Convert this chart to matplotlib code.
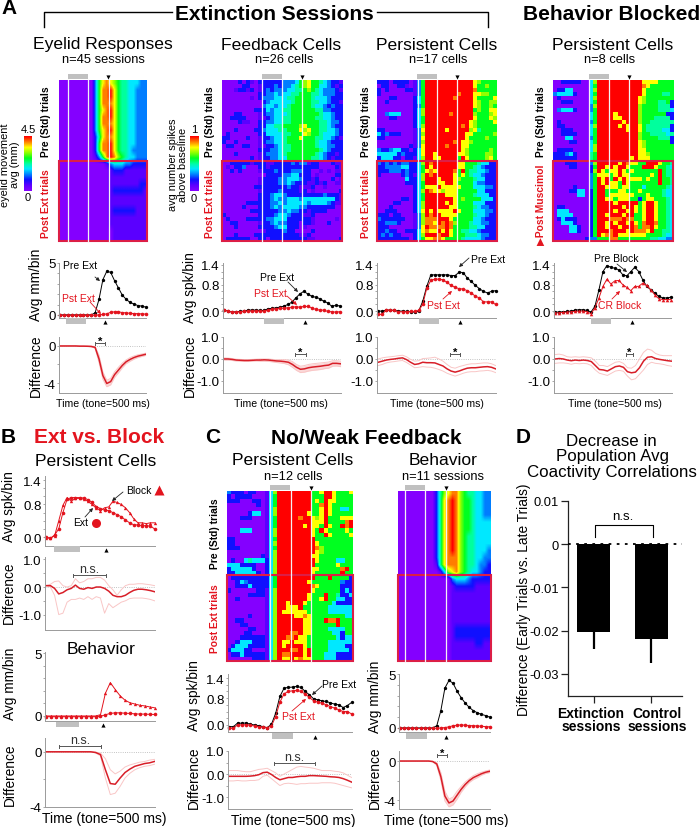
import numpy as np
import matplotlib
matplotlib.use("Agg")
import matplotlib.pyplot as plt
from matplotlib.colors import LinearSegmentedColormap
from matplotlib.patches import Rectangle

plt.rcParams['font.family'] = ['Liberation Sans', 'DejaVu Sans']

W, H = 700, 828
RED = '#e3141e'
BOX = '#dc1e46'
GREY = '#c0c0c0'

# heat maps, one hex digit per cell (0 = purple ... a = red)
hm_eyelid = [
 "00000000036898765544433", "0000000003699a865544333", "0000000003699a865544333",
 "00000000036999865544333", "0000000003689a865544333", "0000000003699a865544333",
 "00000000036999865544333", "0000000003689a865544333", "00000000025899865544333",
 "0000000002699a865544333", "0000000002699a865543333", "0000000001369a976544333",
 "00000000000013444332222", "00000000000001222111111", "00000000000001111111111",
 "00000000000001111111122", "00000000000001222222221", "00000000000001111111111",
 "00000000000001111111111", "00000000000001222222111", "00000000000001111111111",
 "00000000000001111111111", "00000000000000111111111", "00000000000000111111111"]
hm_feedback = [
 "000020210222222333467866543221", "000002200122232334567866443212", "000122120123233344556765433321",
 "000000000223343445566655433322", "000000010233344455666654443222", "000000000023444445666655443221",
 "000000000034434456666654432322", "000000002224344556666665533222", "000220000123344456666666544322",
 "002222000112344556666665544322", "000021100223344556666666554332", "000000000224455666678666554322",
 "000200002234445566687866554432", "020000000224444556668766544432", "220000200122344566686665544321",
 "200200000123344566666665443222", "022002200112234556666665443322", "000000000222334556666666543222",
 "000200000123334566666665432212", "000000020122334466666655432122",
 "002222212221122223233122000211", "010223000221222222222222000021", "002020000122232223332200101011",
 "000000000002222334422201000022", "000000000122223344432212000201", "000000000122223343222112120011",
 "000000002222222232211120010000", "000000000122223222212010000002", "000000000222344322222222232221",
 "000000000222343344434444444421", "000000222222334344444344443211", "000002000222343444433222222200",
 "000000022222223343322122220000", "200000000222234432221120000000", "020000222223344422222210000010",
 "002200000122343322202210002000", "000200000222234422201000000000", "000000000012222322000020000000",
 "000200002222222222211200000000", "022222200220222222222110000002"]
hm_persist = [
 "222022220136aaaaaaaaaaaa876666", "022002210136aaaaaaaaaaaa866766", "202000022136aaaaaaaaaaaa966666",
 "200000000136aaaaaaaa9aaa887766", "000220000246aaaaaaa9aaaa866668", "002000000246aaaaaaaaaaaa876677",
 "000000000236aaaaaaaaaaaa876676", "000000000247aaaaaaaaaaaa676688", "003444000247aaaaaa9aaaaa766678",
 "000220000246aaaaaaaaaaaa866687", "000000000246aaaaaaaaaaa8766668", "000000000247aaaaaaaaa9a8766666",
 "220000000138aaaaa8aaaaa7856666", "423222000137aaaaaaaaaa88666667", "220000000138aaaaaaaaaa86666766",
 "000000000137aaaaaaa9a887666666", "000000002138aaaaa9aaa886666666", "322344220248aaaaaaaaa876666676",
 "444442322248aa8aaaaa8876666776", "244422022147aa88aaaa6a86666786",
 "323232332247a9aaaaaa8866654422", "223333442246a8aaaaaa8866543222", "222333232246898aaaa96a65544322",
 "200000232147a9aaaaa86865443222", "000000042247aaa8aaa87666544222", "000000022246aaa88aa86666433222",
 "000000000246888a88888666444332", "000000000247a98878886666644222", "000000000246aaaaa8886666544422",
 "000000220246aaaaaaa86766664442", "000022000247aaaaa8a86666444222", "000200000247aaaaaa886666543322",
 "002220000248a8a8888a8666444332", "222022000137a9aa88886666544322", "322222200137999aaa866666443222",
 "223332000137998a9a976665443322", "222000000138a9999a966665544222", "223220022248988a8a866554432222",
 "232322000247aaa9aa866655543322", "222222220246889986666544443222"]
hm_blocked = [
 "00222220047aaaaaaaaaaa88886666", "00000000046aaaaaaaaaaa98666666", "02244000047aaaaaaaaaaa86666666",
 "34444200046aaaaaaaaaaa86666556", "02000000047aaaaaaaaaa876666666", "00222000046aaaaaaaaaa876665562",
 "00000000037aaaaaaaaaa766665552", "03444200036aaaaaaaaaa766665554", "00000000046aaaa8aaaaa766666622",
 "00000000046aaaa88aaaa766655552", "02000000036aaaaaa8aaa766555555", "02200000047aaaaa8a8aa865555552",
 "00222000046aaaaaaa8aa865555442", "00222200046aaaaaaaaaa766555545", "00044000036aaaaaaaaaa766665552",
 "00002200046aaaaaaaaaa876666662", "00000000047aaaaaaaaaa876666666", "02222000047aaaaaaaaaa886666666",
 "22234200056aaaaaaaaaa887666666", "22222200056aaaaaaaa8a888666666",
 "00022200037aaaaa8a98866aaa8665", "00002200026aa8a8aa8666aaa86654", "00000000027a8688a868666666a655",
 "0000000003688868a886666686a655", "00000000036a8a6a8a88886866a665", "00000000036a8a886a86666666a665",
 "00000200036aa88868866646666654", "00002244026aa66688666866666544", "00000044026aa68888886668666544",
 "00000000026aa88688866268866654", "00000000026aaaa8aaaaa68aa86654", "02200000026aaaaaa8aa868aa86654",
 "04440000026aaaa8aa8a868aa86654", "04444000026aa8aaa8aa668aa86654", "02422200026aaa999a99668aa86654",
 "00444200026aa8a8aa8a869aa96654", "00004420026aa8aa8aaa9699a86654", "00004420026aaa9aaa8a9998a66554",
 "00000000026a899a88888886666544", "00000000233666996666666655443"]
hm_noweak = [
 "322202200147aaaaaaaa668aa86668", "202222000146aaaaaaaa666aa86666", "222000220146aaaaaaaa686a886666",
 "000000020146aaaaaaaa669a866666", "000000000147aaaaaaaa668a866446", "000002440147aaaaaaa8668a866666",
 "000222000146aaaaa9aa878a666888", "000000000146aaaaaaaa888a66669a", "000000000146aaaaaa8a886a866a9a",
 "000444000147aaaaaaaa86a8666686", "000000000147aaaaaaaa866a866668", "220000000146aaaaaaaaa666666666",
 "220000000147aaaaaaaaa866666666", "222000000146aaaaaaaaa976666666", "000000000147aaaaaaaaa876666666",
 "000000002147aaaaaaaa8866666666", "020045444247aaaaaaaaa866664466", "444222200247aaaaaaaaa666668666",
 "244444200247aaaaaaaa88666669a6", "224444420247aaaaaaaa8666666a66",
 "022222222246aaaaaaaaa666a66662", "002432222246aaaaaaa86666666322", "002224222246aaaaaaaa9866666222",
 "200000022147aaaaaaaa8666666242", "000002222147aaaaaaa8666a665224", "002000000147aaaaaaa8668a664422",
 "000000000147aa8aaa866666642222", "000000000147aa888a666666444444", "000000000147a88888866666444444",
 "000002000147aaaa88986666666644", "002200000147aaaaaa88666a99a666", "000220000147aaaaaa88666666a666",
 "000002200147aaaaaa886666444466", "000022000147aaa99a886666644266", "000222222147aa99a8866666664244",
 "002444222147a88a88866666444444", "024442222147a8aaaa866666444422", "244422000147aaa99a8a6666444442",
 "022422222147a99aaa8a6664442222", "000000222147a88a89886664442222"]
hm_noweak_beh = [
 "00000000025789976554433", "0000000002589a976654433", "0000000002589a976654433",
 "0000000002589a976654433", "0000000002589a976654444", "0000000002589a976654444",
 "0000000002589a976554444", "0000000002589a976554444", "0000000002589a976554443",
 "00000000025899976554433", "00000000015899976554332", "00000000001478976544322",
 "00000000000003444322222", "00000000000001222221111", "00000000000001111111111",
 "00000000000001111111111", "00000000000001111111111", "00000000000001111111111",
 "00000000000001111111111", "00000000000001222222222", "00000000000001222222222",
 "00000000000001111112211", "00000000000001111111111", "00000000000001111111111"]

# line panels: Avg per bin, pre and post
a1_pre = [0, 0, 0, 0, 0, 0, 0, 0, 0, .2, 1.5, 3.4, 4.2, 4.1, 3.3, 2.6, 1.9, 1.5, 1.2, 1.05, .9, .85, .75]
a1_pst = [-.05, -.05, -.05, -.05, -.05, -.05, -.05, -.05, -.05, -.03, 0, .05, .1, .25, .3, .3, .22, .2, .15, .13, .12, .1, .08]
a1_diff = [0, 0, 0, 0, 0, -.02, -.02, -.03, -.05, -.15, -1.4, -3.2, -4.05, -3.85, -3.1, -2.6, -2.1, -1.7, -1.45, -1.25, -1.1, -1.0, -.9]
a1_up = [0, 0, 0, 0, 0, -.01, -.01, -.01, -.02, -.05, -1.0, -2.8, -3.7, -3.5, -2.8, -2.3, -1.85, -1.5, -1.25, -1.08, -.95, -.87, -.78]
a1_lo = [0, 0, 0, 0, 0, -.03, -.03, -.05, -.08, -.25, -1.8, -3.6, -4.4, -4.2, -3.4, -2.9, -2.35, -1.9, -1.65, -1.42, -1.25, -1.13, -1.02]

a2_pre = [.03, 0, -.03, -.02, -.01, 0, .03, .03, .03, .02, .02, .07, .08, .1, .12, .15, .2, .27, .4, .52, .6, .52, .45, .42, .38, .3, .25, .15, .17, .16]
a2_pst = [.03, 0, -.03, -.03, -.02, -.01, 0, 0, 0, 0, 0, .03, .05, .07, .08, .09, .1, .12, .13, .12, .14, .14, .1, .05, .03, .03, -.01, -.02, -.03, -.02]
a2_diff = [0, 0, -.02, -.05, -.06, -.07, -.07, -.06, -.05, -.05, -.04, -.05, -.07, -.09, -.1, -.12, -.15, -.25, -.38, -.47, -.45, -.4, -.37, -.35, -.33, -.3, -.28, -.2, -.2, -.22]
a2_up = [.05, .04, .02, -.01, -.02, -.03, -.03, -.02, -.01, 0, 0, 0, -.02, -.03, -.03, -.03, -.05, -.12, -.25, -.33, -.3, -.25, -.22, -.2, -.18, -.16, -.14, -.08, -.08, -.1]
a2_lo = [-.05, -.05, -.07, -.09, -.1, -.11, -.11, -.1, -.09, -.1, -.1, -.11, -.13, -.16, -.18, -.21, -.26, -.38, -.52, -.62, -.6, -.55, -.52, -.5, -.48, -.44, -.42, -.33, -.32, -.35]

a3_pre = [0, 0, .03, .03, .02, 0, 0, -.01, -.02, -.03, 0, .3, .75, 1.1, 1.1, 1.1, 1.1, 1.1, 1.08, 1.08, 1.18, 1.17, 1.0, .9, .78, .68, .6, .55, .6, .62]
a3_pst = [-.1, -.1, .04, .02, .02, -.02, -.02, -.02, -.01, -.01, .02, .2, .7, .93, .97, .97, .95, .87, .78, .72, .68, .67, .62, .55, .45, .4, .28, .28, .28, .2]
a3_diff = [-.15, -.1, -.05, -.02, 0, .03, .05, -.03, -.15, -.25, -.22, -.15, -.17, -.17, -.18, -.25, -.32, -.45, -.55, -.6, -.55, -.48, -.42, -.4, -.4, -.38, -.36, -.35, -.38, -.45]
a3_up = [0, .05, .08, .1, .12, .15, .17, .1, -.02, -.1, -.08, .02, .03, .05, .08, 0, -.1, -.25, -.38, -.42, -.35, -.3, -.25, -.22, -.22, -.2, -.18, -.18, -.22, -.3]
a3_lo = [-.3, -.25, -.18, -.14, -.12, -.09, -.07, -.16, -.28, -.4, -.38, -.35, -.37, -.38, -.42, -.48, -.55, -.65, -.72, -.78, -.72, -.65, -.6, -.58, -.58, -.55, -.54, -.52, -.55, -.62]

a4_pre = [-.03, -.03, -.02, -.01, 0, .03, .04, .04, .02, -.03, .15, .65, 1.2, 1.38, 1.33, 1.3, 1.25, 1.1, 1.07, 1.2, 1.33, 1.2, .95, .75, .65, .55, .45, .4, .4, .42]
a4_pst = [-.06, -.05, -.04, -.03, -.02, -.01, 0, 0, -.02, -.08, .1, .4, .75, .97, .82, .92, .93, .8, .72, .62, .75, .75, .85, .78, .65, .5, .38, .35, .35, .35]
a4_diff = [0, .02, 0, -.05, -.08, -.05, -.07, -.05, -.07, -.12, -.3, -.48, -.5, -.55, -.45, -.35, -.32, -.38, -.58, -.63, -.6, -.4, -.1, .08, .1, .02, -.02, -.05, -.08, -.1]
a4_up = [.2, .22, .18, .1, .08, .1, .08, .1, .08, .05, -.1, -.3, -.3, -.35, -.25, -.15, -.12, -.2, -.4, -.42, -.3, 0, .3, .45, .4, .25, .18, .15, .15, .15]
a4_lo = [-.2, -.18, -.18, -.2, -.24, -.2, -.22, -.2, -.22, -.3, -.5, -.65, -.7, -.75, -.65, -.55, -.52, -.56, -.78, -.95, -.9, -.7, -.5, -.25, -.15, -.2, -.22, -.25, -.3, -.33]

b1_block = [-.02, -.03, .03, .4, .78, .97, .88, .95, .95, .93, .88, .8, .72, .65, .72, .74, .88, .85, .8, .72, .6, .45, .35, .35, .33, .35, .35]
b1_ext = [0, -.03, .05, .2, .6, .93, .97, .97, .97, .96, .92, .85, .75, .7, .66, .65, .6, .55, .5, .42, .35, .3, .3, .28, .28, .27, .2]
b1_diff = [.05, .05, -.05, -.25, -.2, -.1, -.05, .07, -.05, -.08, -.02, -.05, 0, 0, -.05, -.15, -.3, -.35, -.35, -.3, -.2, -.12, -.08, -.08, -.1, -.13, -.17]
b1_up = [.05, .1, .2, .22, .05, 0, .05, .3, .15, .2, .3, .3, .35, .35, .25, .05, -.1, -.3, -.1, .05, .1, .1, .12, .12, .1, .08, .05]
b1_lo = [.05, 0, -.3, -1.0, -.95, -.55, -.45, -.45, -.4, -.45, -.35, -.45, -.35, -.4, -.95, -.6, -.75, -.65, -.55, -.5, -.42, -.4, -.4, -.4, -.42, -.45, -.5]

b2_block = [0, 0, 0, 0, 0, 0, 0, 0, 0, 0, 0, .1, 1.8, 2.65, 2.1, 1.6, 1.25, 1.05, .95, .85, .8, .72, .65]
b2_ext = [-.05, -.05, -.05, -.05, -.05, -.05, -.05, -.05, -.05, -.05, -.05, -.03, .1, .2, .25, .25, .22, .2, .17, .15, .15, .13, .12]
b2_diff = [0, 0, 0, 0, 0, 0, 0, 0, 0, 0, -.05, -.2, -1.3, -2.3, -2.35, -1.9, -1.5, -1.25, -1.05, -.95, -.85, -.8, -.7]
b2_up = [0, 0, 0, 0, 0, 0, 0, 0, 0, 0, -.02, -.1, -.5, -1.3, -1.6, -1.4, -1.1, -.95, -.85, -.75, -.7, -.6, -.55]
b2_lo = [0, 0, 0, 0, 0, 0, 0, 0, 0, 0, -.08, -.3, -1.9, -3.1, -3.0, -2.5, -1.9, -1.55, -1.3, -1.15, -1.05, -1.0, -.9]

c1_pre = [-.05, -.05, .06, .05, .06, .02, 0, -.02, -.05, -.08, .02, .35, .85, 1.1, 1.12, 1.13, 1.15, 1.12, 1.0, .9, .78, .75, .72, .7, .66, .62, .6, .52, .58, .67]
c1_pst = [-.1, -.1, .01, 0, .01, -.01, -.03, -.05, -.07, -.08, -.03, .25, .68, .93, 1.0, 1.02, 1.03, 1.0, .92, .82, .72, .68, .65, .6, .55, .5, .45, .4, .4, .33]
c1_diff = [-.1, -.1, -.1, -.1, -.1, -.09, -.07, -.03, .06, .08, -.02, -.15, -.25, -.2, -.15, -.15, -.12, -.1, -.1, -.07, -.07, -.08, -.09, -.1, -.12, -.13, -.15, -.2, -.27, -.35]
c1_up = [.15, .15, .15, .12, .1, .1, .15, .2, .22, .25, .15, .05, -.1, 0, .1, .2, .3, .33, .3, .28, .25, .2, .15, .15, .15, .12, .1, .05, -.05, -.15]
c1_lo = [-.3, -.3, -.28, -.3, -.3, -.28, -.28, -.25, -.1, -.05, -.2, -.35, -.5, -.42, -.4, -.42, -.45, -.42, -.42, -.4, -.4, -.4, -.38, -.38, -.38, -.4, -.45, -.5, -.55, -.6]

c2_pre = [0, 0, 0, 0, 0, 0, 0, 0, 0, .2, 1.6, 3.7, 4.4, 4.15, 3.4, 2.8, 2.3, 1.9, 1.6, 1.4, 1.25, 1.15, 1.0]
c2_pst = [-.05, -.05, -.05, -.05, -.05, -.05, -.05, -.05, -.05, -.03, 0, .03, .1, .2, .25, .28, .25, .22, .2, .18, .15, .12, .1]
c2_diff = [0, 0, 0, 0, 0, 0, 0, 0, -.05, -.3, -1.6, -3.6, -4.3, -4.1, -3.5, -2.9, -2.4, -2.0, -1.7, -1.5, -1.3, -1.15, -1.05]
c2_up = [0, 0, 0, 0, 0, 0, 0, 0, -.02, -.15, -1.2, -3.1, -3.9, -3.7, -3.1, -2.6, -2.15, -1.8, -1.5, -1.3, -1.15, -1.02, -.92]
c2_lo = [0, 0, 0, 0, 0, 0, 0, 0, -.08, -.45, -2.0, -4.1, -4.7, -4.5, -3.9, -3.2, -2.65, -2.2, -1.9, -1.7, -1.45, -1.28, -1.18]

# panel D
d_groups = [0, 1]
d_means = [-.0202, -.022]
d_err = [.0041, .0055]

fig = plt.figure(figsize=(W / 100, H / 100), dpi=100)

# overlay in pixel coordinates for all the lettering
ov = fig.add_axes([0, 0, 1, 1], zorder=10)
ov.set_xlim(0, W)
ov.set_ylim(H, 0)
ov.axis('off')
ov.patch.set_alpha(0)

heat = LinearSegmentedColormap.from_list('heat', ['#8400ff', '#5a00ff', '#1010ff', '#0080ff', '#00e8ff', '#00ffa0',
                                                  '#00ff20', '#90ff00', '#ffff00', '#ff8000', '#ff0000'])


def px_axes(x0, y0, x1, y1):
    return fig.add_axes([x0 / W, 1 - y1 / H, (x1 - x0) / W, (y1 - y0) / H])


def txt(x, y, s, size, **kw):
    kw.setdefault('ha', 'center')
    kw.setdefault('va', 'center')
    ov.text(x, y, s, fontsize=size, **kw)


def heatmap(rows, x0, y0, ymid, y1, lines, bar, arrow, smooth=False):
    ax = px_axes(x0, y0, x1=lines[-1], y1=y1)
    width = max(len(r) for r in rows)
    ax.imshow([[int(c, 16) for c in r.ljust(width, r[-1])] for r in rows], cmap=heat, vmin=0, vmax=10,
              aspect='auto', interpolation='bilinear' if smooth else 'nearest')
    ax.axis('off')
    for x in lines[:-1]:
        ov.plot([x, x], [y0, y1], color='#f4f0f4', lw=0.9)
    ov.add_patch(Rectangle((x0, ymid), lines[-1] - x0, y1 - ymid, fill=False, ec=BOX, lw=1.5))
    ov.add_patch(Rectangle((bar, y0 - 6), 20, 5, color=GREY, lw=0))
    ov.plot(arrow, y0 - 3.5, marker='v', ms=3, color='k', mec='none')


def style(ax, ymin, ymax, major, labels, minor):
    ax.set_ylim(ymin, ymax)
    ax.set_yticks(major, labels)
    ax.set_yticks(minor, minor=True)
    ax.set_xticks([])
    for s in ['top', 'right']:
        ax.spines[s].set_visible(False)
    for s in ['left', 'bottom']:
        ax.spines[s].set_color('#9a9a9a')
        ax.spines[s].set_linewidth(0.7)
    ax.tick_params(axis='y', which='both', color='#9a9a9a', width=0.6, length=1.5, pad=1, labelsize=9.5)
    ax.patch.set_alpha(0)


def avg_panel(box, pre, pst, ylim, major, labels, minor, pre_m='o', pst_m='o', pre_c='k'):
    ax = px_axes(*box)
    x = np.arange(len(pre))
    ax.plot(x, pre, color=pre_c, lw=0.7, marker=pre_m, ms=2.4, mew=0, clip_on=False)
    ax.plot(x, pst, color=RED, lw=0.7, marker=pst_m, ms=2.6, mew=0, clip_on=False)
    ax.set_xlim(-0.3, len(pre) - 1 + 0.1)
    style(ax, ylim[0], ylim[1], major, labels, minor)
    return ax


def diff_panel(box, mean, up, lo, ylim, major, labels, minor, shade=False):
    ax = px_axes(*box)
    x = np.arange(len(mean))
    ax.axhline(0, color='#b0b0b0', lw=0.6, ls=':')
    if shade:
        ax.fill_between(x, lo, up, color='#fbd8d8', lw=0)
    ax.plot(x, up, color='#f9c6c6', lw=0.7)
    ax.plot(x, lo, color='#f9c6c6', lw=0.7)
    ax.plot(x, mean, color='#d81e28', lw=1.1)
    ax.set_xlim(-0.3, len(mean) - 1 + 0.1)
    style(ax, ylim[0], ylim[1], major, labels, minor)
    return ax


def bracket(x0, x1, y, label, size=9):
    ov.plot([x0, x1], [y, y], color='#555555', lw=0.7)
    ov.plot([x0, x0], [y - 1.5, y + 1.5], color='#555555', lw=0.7)
    ov.plot([x1, x1], [y - 1.5, y + 1.5], color='#555555', lw=0.7)
    if label == '*':
        txt((x0 + x1) / 2, y - 2, label, 8, fontweight='bold')
    else:
        txt((x0 + x1) / 2, y - 6, label, size, color='#333333')


def arrow(x0, y0, x1, y1, color='#222222'):
    ov.annotate('', xy=(x1, y1), xytext=(x0, y0),
                arrowprops=dict(arrowstyle='-|>', lw=0.6, color=color, mutation_scale=5, shrinkA=0, shrinkB=0))


def under_marks(x0, x1, y, ya):
    ov.add_patch(Rectangle((x0, y), x1 - x0, 5.5, color=GREY, lw=0))
    ov.plot(xa_of[x0], ya, marker='^', ms=3, color='k', mec='none')


def colorbar(x0, y0, x1, y1):
    ax = px_axes(x0, y0, x1, y1)
    ax.imshow(np.linspace(10, 0, 64)[:, None], cmap=heat, vmin=0, vmax=10, aspect='auto')
    ax.axis('off')


# heat maps
heatmap(hm_eyelid, 59, 81, 162, 242, [68, 88, 109, 147], 68, 108, smooth=True)
heatmap(hm_feedback, 222, 81, 162, 242, [262, 282, 302, 342], 262, 302)
heatmap(hm_persist, 377, 81, 162, 242, [418, 437, 457, 497], 417, 457)
heatmap(hm_blocked, 553, 81, 162, 242, [589, 609, 629, 673], 589, 629)
heatmap(hm_noweak, 227, 492, 576, 662, [270, 291, 311, 353], 270, 311)
heatmap(hm_noweak_beh, 398, 492, 576, 662, [405, 425, 446, 491], 405, 446, smooth=True)

colorbar(24, 137, 32, 192)
colorbar(190, 137, 199, 192)

# tick setups shared by the panels
spk_major, spk_labels = [0, .8, 1.4], ['0.0', '0.8', '1.4']
spk_minor = [.2, .4, .6, 1.0, 1.2]
dif_major, dif_labels = [-1, 0, 1], ['-1.0', '0.0', '1.0']
dif_minor = [-.5, .5]

avg_panel((59, 264, 146, 319), a1_pre, a1_pst, (-.3, 5), [0, 5], ['0', '5'], [1, 2, 3, 4])
diff_panel((59, 338, 146, 394), a1_diff, a1_up, a1_lo, (-5.08, .97), [-4, 0], ['-4', '0'], [-2], shade=True)
avg_panel((223, 264, 340, 319), a2_pre, a2_pst, (-.21, 1.46), spk_major, spk_labels, spk_minor)
diff_panel((223, 338, 341, 394), a2_diff, a2_up, a2_lo, (-1.55, 1), dif_major, dif_labels, dif_minor, shade=True)
avg_panel((377, 264, 496, 319), a3_pre, a3_pst, (-.21, 1.46), spk_major, spk_labels, spk_minor)
diff_panel((377, 338, 496, 394), a3_diff, a3_up, a3_lo, (-1.55, 1), dif_major, dif_labels, dif_minor)
avg_panel((554, 264, 671, 319), a4_pre, a4_pst, (-.21, 1.46), spk_major, spk_labels, spk_minor, pst_m='^')
diff_panel((554, 338, 672, 394), a4_diff, a4_up, a4_lo, (-1.55, 1), dif_major, dif_labels, dif_minor)

avg_panel((45, 477, 155, 547), b1_block, b1_ext, (-.22, 1.5), spk_major, spk_labels, spk_minor,
          pre_m='^', pre_c=RED)
diff_panel((45, 558, 155, 631), b1_diff, b1_up, b1_lo, (-1.56, 1.09), dif_major, dif_labels, dif_minor)
avg_panel((45, 653, 155, 722), b2_block, b2_ext, (-.4, 5.08), [0, 5], ['0', '5'], [1, 2, 3, 4],
          pre_m='^', pre_c=RED)
diff_panel((45, 739, 155, 808), b2_diff, b2_up, b2_lo, (-4, 1), [-4, 0], ['-4', '0'], [-2])

avg_panel((228, 675, 352, 733), c1_pre, c1_pst, (-.21, 1.52), spk_major, spk_labels, spk_minor)
diff_panel((228, 752, 352, 810), c1_diff, c1_up, c1_lo, (-1.52, 1), dif_major, dif_labels, dif_minor)
avg_panel((399, 675, 490, 733), c2_pre, c2_pst, (-.38, 5), [0, 5], ['0', '5'], [1, 2, 3, 4])
diff_panel((399, 752, 490, 810), c2_diff, c2_up, c2_lo, (-4.92, 1.03), [-4, 0], ['-4', '0'], [-2], shade=True)

# grey tone bars and small arrowheads under the line panels
xa_of = {66: 105, 264: 305, 419: 460, 591: 632, 272: 315, 406: 446}
for bx in [66, 264, 419, 591]:
    under_marks(bx, bx + 20, 319, 323)
for bx in [272, 406]:
    under_marks(bx, bx + 21, 734, 738)
ov.add_patch(Rectangle((54, 547), 26, 5.5, color=GREY, lw=0))
ov.plot(106, 551, marker='^', ms=3, color='k', mec='none')
ov.add_patch(Rectangle((56, 723), 23, 5, color=GREY, lw=0))
ov.plot(103, 726, marker='^', ms=3, color='k', mec='none')

# panel D bars
ax_d = px_axes(568, 502, 682, 697)
ax_d.bar(d_groups, d_means, width=0.57, color='k')
ax_d.errorbar(d_groups, d_means, yerr=[d_err, [0, 0]], fmt='none', ecolor='k', elinewidth=1.6, capsize=0)
ax_d.axhline(0, color='k', lw=1.3, ls=(0, (1.5, 3)), zorder=5)
ax_d.set_xlim(-.44, 1.526)
ax_d.set_ylim(-.0351, .01)
ax_d.set_yticks([.01, 0, -.01, -.02, -.03], ['0.01', '0', '-0.01', '-0.02', '-0.03'])
ax_d.set_xticks(d_groups, ['', ''])
ax_d.tick_params(axis='both', width=0.9, length=5, labelsize=9.3, pad=1.5, color='#222222')
for s in ['top', 'right']:
    ax_d.spines[s].set_visible(False)
for s in ['left', 'bottom']:
    ax_d.spines[s].set_linewidth(0.9)
    ax_d.spines[s].set_color('#222222')
ax_d.patch.set_alpha(0)

# headings
txt(9, 9, 'A', 15, fontweight='bold')
txt(274, 15, 'Extinction Sessions', 15, fontweight='bold')
txt(612, 15, 'Behavior Blocked', 15, fontweight='bold')
ov.plot([43.5, 43.5, 172], [28, 13, 13], color='k', lw=1)
ov.plot([377, 488, 488], [13, 13, 28], color='k', lw=1)

for x, y, s in [(103, 45, 'Eyelid Responses'), (281, 45, 'Feedback Cells'), (437, 45, 'Persistent Cells'),
                (613, 45, 'Persistent Cells'), (96, 462, 'Persistent Cells'), (293, 461, 'Persistent Cells'),
                (443, 461, 'Behavior'), (101, 650, 'Behavior')]:
    txt(x, y, s, 12.6)
for x, y, s in [(103, 60, 'n=45 sessions'), (284, 60, 'n=26 cells'), (438, 60, 'n=17 cells'),
                (610, 60, 'n=8 cells'), (293, 477, 'n=12 cells'), (443, 477, 'n=11 sessions')]:
    txt(x, y, s, 9.3)

txt(8, 438, 'B', 15, fontweight='bold')
txt(99, 438, 'Ext vs. Block', 15, fontweight='bold', color=RED)
txt(213, 438, 'C', 15, fontweight='bold')
txt(366, 439, 'No/Weak Feedback', 15, fontweight='bold')
txt(523, 438, 'D', 15, fontweight='bold')
txt(611, 442, 'Decrease in', 12.2)
txt(613, 457, 'Population Avg', 12.2)
txt(612, 473, 'Coactivity Correlations', 12.2)

# trial labels beside the heat maps
for x in [46, 210, 366, 541]:
    txt(x, 122, 'Pre (Std) trials', 7.4, rotation=90, fontweight='bold')
for x in [46, 210, 366]:
    txt(x, 204, 'Post Ext trials', 7.4, rotation=90, fontweight='bold', color=RED)
txt(541, 205, '\u25b6Post Muscimol', 7.4, rotation=90, fontweight='bold', color=RED)
txt(215, 534, 'Pre (Std) trials', 7.4, rotation=90, fontweight='bold')
txt(215, 619, 'Post Ext trials', 7.4, rotation=90, fontweight='bold', color=RED)

# colour bar text
txt(28, 130, '4.5', 8)
txt(28, 198, '0', 8)
txt(5, 165, 'eyelid movement', 7.9, rotation=90)
txt(15, 165, 'avg (mm)', 7.9, rotation=90)
txt(194, 130, '1', 8)
txt(194, 199, '0', 8)
txt(173, 165, 'avg number spikes', 7.9, rotation=90)
txt(183, 165, 'above baseline', 7.9, rotation=90)

# axis titles
for x, y, s in [(36, 285, 'Avg mm/bin'), (36, 366, 'Difference'), (190, 288, 'Avg spk/bin'), (190, 366, 'Difference'),
                (9, 507, 'Avg spk/bin'), (9, 593, 'Difference'), (10, 684, 'Avg mm/bin'), (10, 775, 'Difference'),
                (194, 696, 'Avg spk/bin'), (194, 778, 'Difference'), (375, 697, 'Avg mm/bin'), (375, 778, 'Difference')]:
    txt(x, y, s, 9.9, rotation=90)
txt(524, 600, 'Difference (Early Trials vs. Late Trials)', 9.9, rotation=90)

for x in [103, 281, 437, 615]:
    txt(x, 404, 'Time (tone=500 ms)', 7.6)
for x, y in [(104, 819), (293, 821), (446, 821)]:
    txt(x, y, 'Time (tone=500 ms)', 10)

# series names and pointers
txt(80, 266, 'Pre Ext', 7.5)
arrow(95, 278, 100, 282)
txt(78, 299, 'Pst Ext', 7.5, color=RED)
arrow(90, 303, 101, 315, RED)
txt(277, 278, 'Pre Ext', 7.5)
arrow(288, 283, 298, 293)
txt(270, 294, 'Pst Ext', 7.5, color=RED)
arrow(287, 297, 297, 306, RED)
txt(488, 260, 'Pre Ext', 7.5)
arrow(469, 259, 459, 268)
txt(443, 306, 'Pst Ext', 7.5, color=RED)
arrow(443, 300, 452, 292, RED)
txt(616, 259, 'Pre Block', 7.5)
arrow(617, 265, 627, 273)
txt(620, 306, 'CR Block', 7.5, color=RED)
arrow(612, 300, 620, 292, RED)

txt(139, 491, 'Block', 7.5)
ov.plot(159, 491, marker='^', ms=7, color=RED, mec='none')
arrow(123, 493, 112, 502)
txt(81, 523, 'Ext', 7.5)
ov.plot(96, 524, marker='o', ms=6.5, color=RED, mec='none')
arrow(85, 518, 93, 509)
txt(339, 685, 'Pre Ext', 7.5)
arrow(322, 687, 312, 696)
txt(298, 717, 'Pst Ext', 7.5, color=RED)
arrow(292, 712, 306, 700, RED)

# significance brackets
bracket(95, 105, 344, '*')
bracket(295, 306, 355, '*')
bracket(450, 460, 355, '*')
bracket(626, 633, 355, '*')
bracket(73, 106, 576, 'n.s.')
bracket(59, 101, 747, 'n.s.')
bracket(274, 315, 764, 'n.s.')
bracket(437, 447, 756, '*')

ov.plot([595, 595, 653, 653], [538, 526, 526, 538], color='k', lw=0.8)
txt(623, 517, 'n.s.', 9.5)
txt(591, 714, 'Extinction', 10, fontweight='bold')
txt(591, 727, 'sessions', 10, fontweight='bold')
txt(657, 714, 'Control', 10, fontweight='bold')
txt(657, 727, 'sessions', 10, fontweight='bold')

fig.savefig('out.png', dpi=100)
